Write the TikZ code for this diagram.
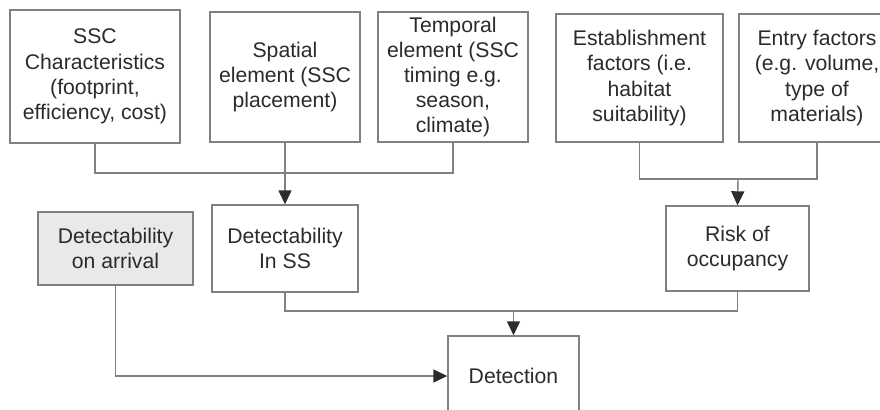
\documentclass[tikz,border=0pt]{standalone}
\usepackage{fontspec}
\setmainfont{Liberation Sans}
\usepackage{tikz}
\usetikzlibrary{arrows.meta}
\definecolor{linegray}{HTML}{808080}
\definecolor{boxfill}{HTML}{E8E9E9}
\definecolor{txt}{HTML}{2B2B2B}

\begin{document}
\begin{tikzpicture}[x=0.5pt,y=-0.5pt,
    box/.style={draw=linegray,line width=0.7pt,align=center,inner sep=1pt,
        text=txt,font=\fontsize{10.6}{12.6}\selectfont},
    link/.style={draw=linegray,line width=0.7pt},
    arrow/.style={link,-{Triangle[length=7pt,width=6.5pt,color=txt]}}]
    \useasboundingbox (0,0) rectangle (880,409);
    \clip (0,0) rectangle (880,409);
    % top row
    \node[box,minimum width=85pt,minimum height=66.5pt] (ssc) at (95,76.5)
        {SSC\\Characteristics\\(footprint,\\efficiency, cost)};
    \node[box,minimum width=75pt,minimum height=65pt] (spatial) at (285,77)
        {Spatial\\element (SSC\\placement)};
    \node[box,minimum width=75pt,minimum height=65pt] (temporal) at (453,77)
        {Temporal\\element (SSC\\timing e.g.\\season,\\climate)};
    \node[box,minimum width=83.5pt,minimum height=64pt] (establish) at (639.5,78)
        {Establishment\\factors (i.e.\\habitat\\suitability)};
    \node[box,minimum width=78pt,minimum height=64pt] (entry) at (817,78)
        {Entry factors\\(e.g. volume,\\type of\\materials)};
    % middle row
    \node[box,fill=boxfill,minimum width=77.5pt,minimum height=36.5pt] (arrival) at (115.5,248.5)
        {Detectability\\on arrival};
    \node[box,minimum width=73pt,minimum height=43.5pt] (inss) at (285,248.5)
        {Detectability\\In SS};
    \node[box,minimum width=71.5pt,minimum height=42.5pt] (risk) at (737.5,248.5)
        {Risk of\\occupancy};
    % bottom
    \node[box,minimum width=65.5pt,minimum height=40pt] (detect) at (513.5,376)
        {Detection};

    \coordinate (tp) at (285,173);
    \coordinate (rp) at (738,179);
    \coordinate (dp) at (513.5,311);

    \draw[link] (ssc.south) |- (tp) -| (temporal.south);
    \draw[arrow] (spatial.south) -- (inss.north);
    \draw[link] (establish.south) |- (rp) -| (entry.south);
    \draw[arrow] (rp) -- (risk.north);
    \draw[link] (inss.south) |- (dp) -| (risk.south);
    \draw[arrow] (dp) -- (detect.north);
    \draw[arrow] (arrival.south) |- (detect.west);
\end{tikzpicture}
\end{document}
